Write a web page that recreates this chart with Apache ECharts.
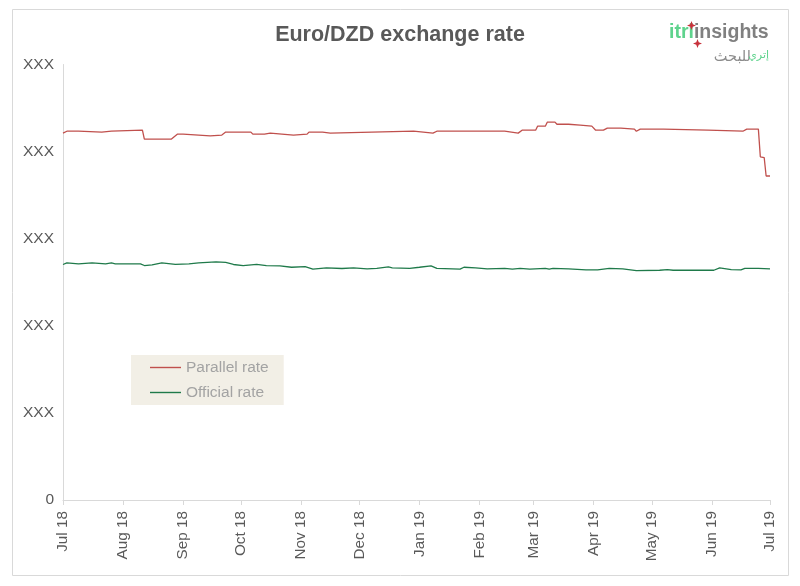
<!DOCTYPE html>
<html>
<head>
<meta charset="utf-8">
<script src="https://cdn.jsdelivr.net/npm/echarts@6/dist/echarts.min.js"></script>
<style>
html,body{margin:0;padding:0;background:#fff;}
#chart{width:800px;height:586px;}
</style>
</head>
<body>
<div id="chart"></div>
<script>
// ---- data ----
const titleText = 'Euro/DZD exchange rate';
const seriesNames = ['Parallel rate', 'Official rate'];
const xTickLabels = ['Jul 18','Aug 18','Sep 18','Oct 18','Nov 18','Dec 18','Jan 19','Feb 19','Mar 19','Apr 19','May 19','Jun 19','Jul 19'];
const yTickLabel = 'XXX';
const xMin = '2018-07-01';
const xMax = '2019-07-01';

const parallelDates = [
  '2018-07-01','2018-07-02','2018-07-03','2018-07-09','2018-07-10','2018-07-21','2018-07-22','2018-07-26','2018-07-27',
  '2018-08-11','2018-08-12','2018-08-26','2018-08-27','2018-08-29','2018-09-01','2018-09-02','2018-09-15','2018-09-16',
  '2018-09-21','2018-09-23','2018-10-06','2018-10-07','2018-10-13','2018-10-14','2018-10-16','2018-10-17','2018-10-28',
  '2018-10-29','2018-11-04','2018-11-05','2018-11-12','2018-11-13','2018-11-16','2018-11-17','2018-12-29','2018-12-30',
  '2019-01-08','2019-01-10','2019-02-14','2019-02-15','2019-02-21','2019-02-23','2019-03-02','2019-03-03','2019-03-07',
  '2019-03-08','2019-03-12','2019-03-13','2019-03-19','2019-03-20','2019-03-25','2019-03-26','2019-03-31','2019-04-02',
  '2019-04-06','2019-04-08','2019-04-15','2019-04-16','2019-04-22','2019-04-23','2019-04-25','2019-05-07','2019-05-08',
  '2019-05-30','2019-05-31','2019-06-17','2019-06-19','2019-06-25','2019-06-26','2019-06-28','2019-06-29','2019-07-01'
];
const parallelValues = [
  210.6,210.6,211.7,211.7,211.2,211.2,211.7,211.7,212.3,
  212.3,207.2,207.2,208.1,210.0,210.0,209.0,209.0,209.5,
  209.5,211.2,211.2,210.0,210.0,210.6,210.6,209.5,209.5,
  210.0,210.0,211.2,211.2,210.6,210.6,211.7,211.7,210.6,
  210.6,211.7,211.7,210.6,210.6,212.3,212.3,214.6,214.6,
  216.9,216.9,215.7,215.7,215.2,215.2,214.6,214.6,212.3,
  212.3,213.5,213.5,212.9,212.9,211.7,212.9,212.9,212.3,
  212.3,211.7,211.7,212.9,212.9,197.0,196.6,186.0,186.0
];

const officialDates = [
  '2018-07-01','2018-07-03','2018-07-09','2018-07-16','2018-07-23','2018-07-26','2018-07-28','2018-08-10','2018-08-12',
  '2018-08-16','2018-08-21','2018-08-28','2018-09-04','2018-09-09','2018-09-18','2018-09-23','2018-09-27','2018-10-02',
  '2018-10-09','2018-10-14','2018-10-21','2018-10-27','2018-11-03','2018-11-07','2018-11-14','2018-11-22','2018-11-28',
  '2018-12-05','2018-12-10','2018-12-16','2018-12-18','2018-12-27','2019-01-01','2019-01-07','2019-01-10','2019-01-22',
  '2019-01-24','2019-01-30','2019-02-05','2019-02-14','2019-02-18','2019-02-22','2019-02-27','2019-03-07','2019-03-09',
  '2019-03-11','2019-03-19','2019-03-28','2019-04-03','2019-04-09','2019-04-16','2019-04-23','2019-05-05','2019-05-09',
  '2019-05-12','2019-06-02','2019-06-05','2019-06-11','2019-06-16','2019-06-18','2019-06-25','2019-07-01'
];
const officialValues = [
  135.2,136.1,135.6,136.1,135.6,136.1,135.6,135.6,134.6,
  135.0,136.1,135.3,135.6,136.1,136.7,136.4,135.2,134.6,
  135.3,134.6,134.4,133.6,134.0,132.5,133.3,132.9,133.3,
  132.7,133.0,133.8,133.3,133.0,133.6,134.4,133.0,132.5,
  133.6,133.3,132.7,133.0,132.5,133.0,132.5,133.0,132.5,
  133.0,132.7,132.1,132.1,133.0,132.7,131.7,131.9,132.3,
  131.9,131.9,133.3,132.3,132.1,133.0,133.0,132.7
];

// ---- chart ----
const chart = echarts.init(document.getElementById('chart'), null, {renderer: 'canvas'});
const baseFont = '"Liberation Sans", Arial, sans-serif';
const startDate = new Date(2018, 6, 1);

function star(cx, cy, r) {
  const k = r * 0.28;
  return [[cx, cy - r],[cx + k, cy - k],[cx + r, cy],[cx + k, cy + k],[cx, cy + r],[cx - k, cy + k],[cx - r, cy],[cx - k, cy - k]];
}

const option = {
  backgroundColor: '#ffffff',
  animation: false,
  title: {
    text: titleText,
    left: 'center',
    top: 19,
    textStyle: {fontFamily: baseFont, fontSize: 21.5, fontWeight: 'bold', color: '#595959'}
  },
  legend: {
    orient: 'vertical',
    left: 131,
    top: 355,
    backgroundColor: '#f2efe6',
    padding: [4, 15, 4, 19],
    itemGap: 8,
    itemWidth: 31,
    itemHeight: 1.4,
    icon: 'rect',
    textStyle: {fontFamily: baseFont, fontSize: 15.5, color: '#a3a3a3', lineHeight: 17},
    data: seriesNames
  },
  grid: {left: 63, right: 30, top: 64.5, bottom: 86, containLabel: false, outerBoundsMode: 'none'},
  xAxis: {
    type: 'time',
    min: xMin,
    max: xMax,
    splitNumber: 12,
    minInterval: 28 * 86400000,
    maxInterval: 31 * 86400000,
    axisLine: {show: true, lineStyle: {color: '#d9d9d9', width: 1}},
    axisTick: {show: true, length: 5, lineStyle: {color: '#d9d9d9'}},
    splitLine: {show: false},
    axisLabel: {
      rotate: 90,
      margin: 11,
      fontFamily: baseFont,
      fontSize: 15.3,
      color: '#595959',
      showMinLabel: true,
      showMaxLabel: true,
      hideOverlap: false,
      formatter: function (v) {
        const d = new Date(v);
        const idx = (d.getFullYear() - startDate.getFullYear()) * 12 + d.getMonth() - startDate.getMonth();
        return xTickLabels[idx] !== undefined ? xTickLabels[idx] : '';
      }
    }
  },
  yAxis: {
    type: 'value',
    min: 0,
    max: 250,
    interval: 50,
    axisLine: {show: true, lineStyle: {color: '#d9d9d9', width: 1}},
    axisTick: {show: false},
    splitLine: {show: false},
    axisLabel: {
      margin: 9,
      fontFamily: baseFont,
      fontSize: 15.5,
      color: '#595959',
      formatter: function (v) { return v === 0 ? '0' : yTickLabel; }
    }
  },
  series: [
    {
      name: seriesNames[0],
      type: 'line',
      symbol: 'none',
      lineStyle: {color: '#c0504d', width: 1.3},
      itemStyle: {color: '#c0504d'},
      data: parallelDates.map((d, i) => [d, parallelValues[i]])
    },
    {
      name: seriesNames[1],
      type: 'line',
      symbol: 'none',
      lineStyle: {color: '#1f7a4a', width: 1.3},
      itemStyle: {color: '#1f7a4a'},
      data: officialDates.map((d, i) => [d, officialValues[i]])
    }
  ],
  graphic: [
    {type: 'rect', silent: true, shape: {x: 12.5, y: 9.5, width: 776, height: 566},
     style: {fill: 'none', stroke: '#d9d9d9', lineWidth: 1}},
    {type: 'text', silent: true, x: 669, y: 23,
     style: {
       text: '{a|itri}{b|insights}',
       rich: {
         a: {fontFamily: baseFont, fontSize: 19.5, fontWeight: 'bold', fill: '#5fd38d'},
         b: {fontFamily: baseFont, fontSize: 19.5, fontWeight: 'bold', fill: '#808080'}
       }
     }},
    {type: 'polygon', silent: true, shape: {points: star(691.5, 25.5, 4.5)}, style: {fill: '#c8323c'}},
    {type: 'polygon', silent: true, shape: {points: star(697.5, 43.5, 4.5)}, style: {fill: '#c8323c'}},
    {type: 'text', silent: true, x: 751, y: 57,
     style: {text: 'للبحث', fontFamily: 'DejaVu Sans', fontSize: 14.5, fill: '#8c8c8c', align: 'right', verticalAlign: 'middle'}},
    {type: 'text', silent: true, x: 769, y: 55,
     style: {text: 'إتري', fontFamily: 'DejaVu Sans', fontSize: 11, fill: '#5fd38d', align: 'right', verticalAlign: 'middle'}}
  ]
};
chart.setOption(option);
</script>
</body>
</html>
